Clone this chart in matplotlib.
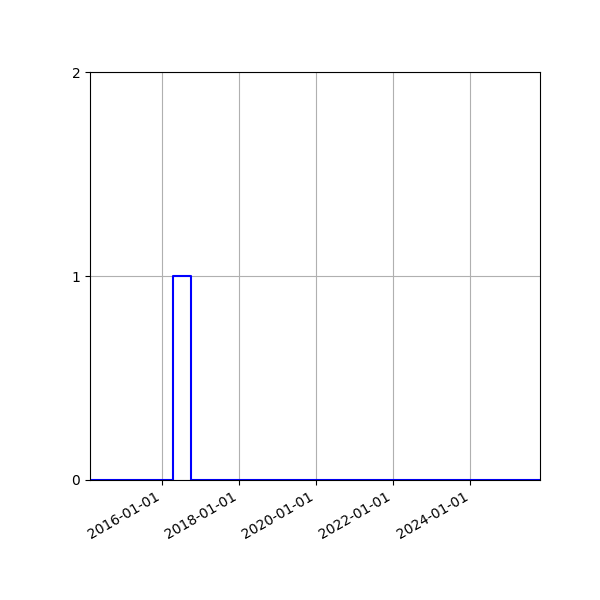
import matplotlib
matplotlib.use("Agg")
import matplotlib.pyplot as plt
import matplotlib.dates as mdates
import numpy as np
from datetime import datetime

dates = [datetime(2014, 2, 21), datetime(2016, 4, 14), datetime(2016, 10, 4), datetime(2025, 10, 22)]
counts = [0, 1, 0, 0]
yticks = [0, 1, 2]

fig, ax = plt.subplots(figsize=(6, 6), dpi=100)
ax.step(dates, counts, where="post", color="b", linewidth=1.5)
ax.set_xlim(dates[0], dates[-1])
ax.set_ylim(0, 2)
ax.set_yticks(yticks)
ax.xaxis.set_major_locator(mdates.YearLocator(2))
ax.xaxis.set_major_formatter(mdates.DateFormatter("%Y-%m-%d"))
ax.grid(True)
fig.autofmt_xdate()
fig.subplots_adjust(left=0.15, right=0.9, top=0.88, bottom=0.2)
fig.savefig("out.png", dpi=100)
